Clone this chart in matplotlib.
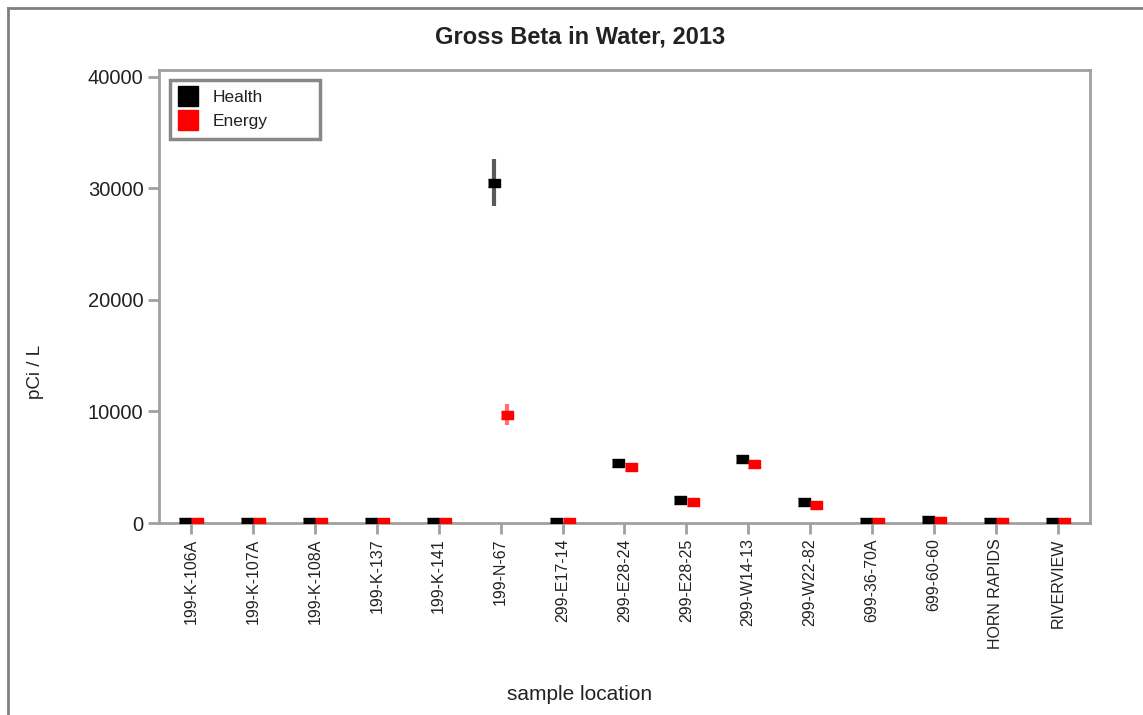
import numpy as np
import matplotlib
matplotlib.use('Agg')
import matplotlib.pyplot as plt
from matplotlib.lines import Line2D

plt.rcParams['font.family'] = ['Liberation Sans', 'DejaVu Sans']

# sample locations along the x axis
locations = ['199-K-106A', '199-K-107A', '199-K-108A', '199-K-137', '199-K-141',
             '199-N-67', '299-E17-14', '299-E28-24', '299-E28-25', '299-W14-13',
             '299-W22-82', '699-36-70A', '699-60-60', 'HORN RAPIDS', 'RIVERVIEW']

# gross beta results, pCi/L
health = [60, 60, 60, 60, 60, 30500, 60, 5350, 2050, 5750, 1850, 60, 250, 60, 60]
health_err = [40, 40, 40, 40, 40, 2100, 40, 200, 150, 250, 150, 40, 60, 40, 40]
energy = [50, 50, 50, 50, 50, 9700, 50, 5000, 1850, 5300, 1600, 50, 220, 50, 50]
energy_err = [40, 40, 40, 40, 40, 950, 40, 180, 150, 250, 120, 40, 60, 40, 40]

yticks = [0, 10000, 20000, 30000, 40000]

fig = plt.figure(figsize=(11.43, 7.15), dpi=100)
ax = fig.add_axes([0.139, 0.2685, 0.8146, 0.6335])

x = np.arange(len(locations))
rect = [(-1.5, -1), (1.5, -1), (1.5, 1), (-1.5, 1)]

ax.errorbar(x - 0.1, health, yerr=health_err, fmt='none', ecolor='#5a5a5a',
            elinewidth=3, capsize=0, zorder=2)
ax.plot(x - 0.1, health, linestyle='none', marker=rect, markersize=8.6,
        color='black', zorder=3)
ax.errorbar(x + 0.1, energy, yerr=energy_err, fmt='none', ecolor='#ff7070',
            elinewidth=3, capsize=0, zorder=2)
ax.plot(x + 0.1, energy, linestyle='none', marker=rect, markersize=8.6,
        color='red', zorder=3)

ax.set_xlim(-0.52, 14.52)
ax.set_ylim(0, 40600)
ax.set_xticks(x)
ax.set_xticklabels(locations, rotation=90, fontsize=11.5, color='#222222')
ax.set_yticks(yticks)
ax.set_yticklabels([str(v) for v in yticks], fontsize=14.5, color='#222222')

for s in ax.spines.values():
    s.set_color('#a0a0a0')
    s.set_linewidth(2)
ax.tick_params(axis='both', direction='out', length=8, width=2, color='#a0a0a0', pad=3)

handles = [Line2D([], [], linestyle='none', marker='s', markersize=14.5, color='black'),
           Line2D([], [], linestyle='none', marker='s', markersize=14.5, color='red')]
leg = ax.legend(handles, ['Health', 'Energy'], loc='upper left', mode='expand',
                bbox_to_anchor=(0.012, 0.978 - 0.1347, 0.161, 0.1347), borderaxespad=0,
                fancybox=False, fontsize=12.5, handlelength=1.0, handletextpad=0.9,
                labelspacing=0.55, borderpad=0.55, framealpha=1)
leg.get_frame().set_edgecolor('#888888')
leg.get_frame().set_linewidth(2.5)
for t in leg.get_texts():
    t.set_color('#222222')

fig.text(580 / 1143, 1 - 37 / 715, 'Gross Beta in Water, 2013', ha='center', va='center',
         fontsize=17, fontweight='bold', color='#222222')
fig.text(35 / 1143, 1 - 372 / 715, 'pCi / L', ha='center', va='center', rotation=90,
         fontsize=13.5, color='#222222')
fig.text(580 / 1143, 1 - 695 / 715, 'sample location', ha='center', va='center',
         fontsize=15, color='#222222')

# outer frame (left and top edges of the window)
fig.add_artist(Line2D([7.5 / 1143, 7.5 / 1143], [0, 1 - 7.5 / 715], transform=fig.transFigure,
                      color='#808080', linewidth=2))
fig.add_artist(Line2D([7.5 / 1143, 1], [1 - 7.5 / 715, 1 - 7.5 / 715], transform=fig.transFigure,
                      color='#808080', linewidth=2))

fig.savefig('out.png', dpi=100)
